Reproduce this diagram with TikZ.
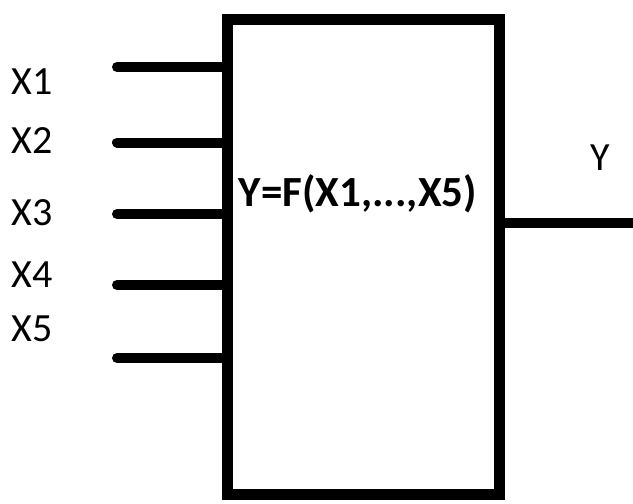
\documentclass[tikz,border=0pt]{standalone}
\usepackage{fontspec}
\setmainfont{Carlito}
\usetikzlibrary{positioning}
\tikzset{
  wire/.style={line width=5pt, line cap=round},
  lbl/.style={font=\fontsize{20}{24}\selectfont, inner sep=0pt},
}
\begin{document}
\begin{tikzpicture}[x=0.5pt,y=-0.5pt]
  \useasboundingbox (0,0) rectangle (633,504);
  % Function block
  \node[draw, line width=5.5pt, minimum width=136.25pt, minimum height=237.5pt,
        inner sep=0pt, outer sep=0pt] (block) at (363.25,256.5) {};
  \node[font=\bfseries\fontsize{21.5}{24}\selectfont, inner sep=0pt] (func) at (358,194) {Y=F(X1,...,X5)};
  % Inputs
  \foreach \i/\yl/\yw in {1/82/67, 2/141/142.5, 3/213/214, 4/275/285, 5/329/358} {
    \coordinate (in\i) at (117,\yw);
    \draw[wire] (in\i) -- (in\i -| block.west);
    \node[lbl] (x\i) at (32,\yl) {X\i};
  }
  % Output
  \coordinate (out) at (633,222.5);
  \draw[wire, line cap=butt] (out -| block.east) -- (out);
  \node[lbl] (y) at (600,158) {Y};
\end{tikzpicture}
\end{document}
